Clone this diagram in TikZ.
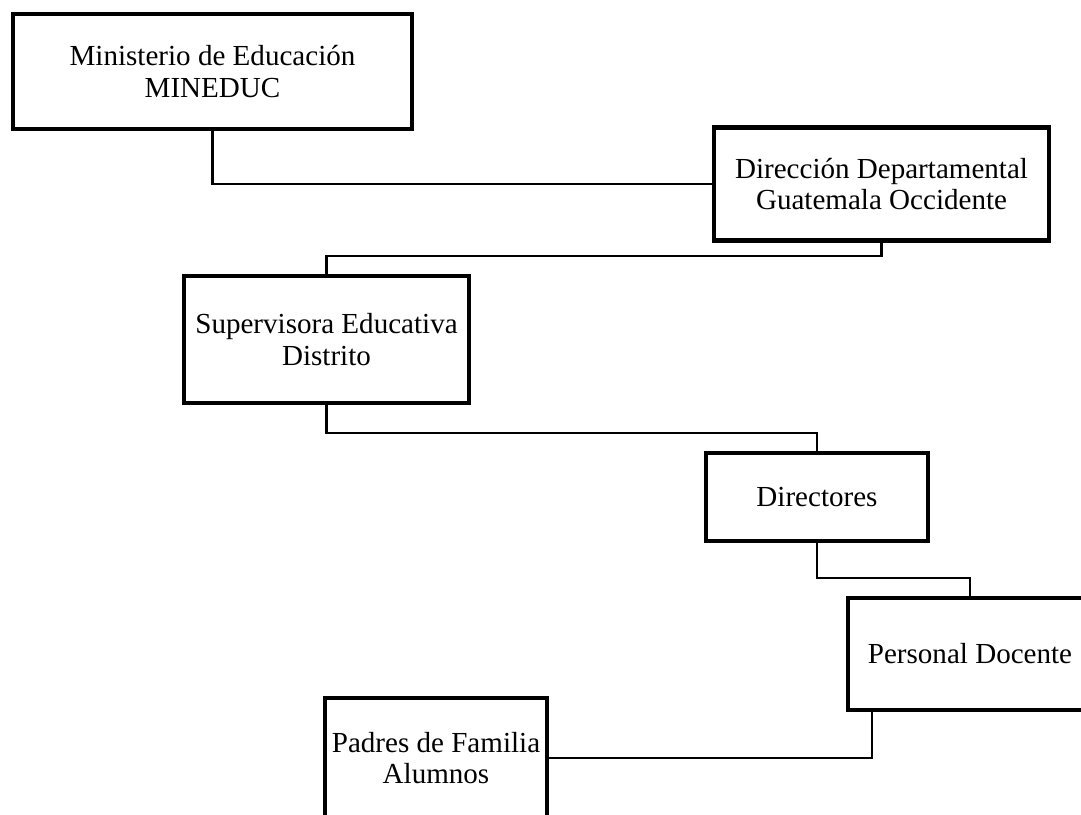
\documentclass[tikz,border=0pt]{standalone}
\usepackage{fontspec}
\setmainfont{Liberation Serif}

\tikzset{every picture/.style={line width=0.75pt}}
\tikzset{
  orgbox/.style={draw, line width=3.2pt, inner sep=0pt, align=center,
    font=\fontsize{21.8}{23.6}\selectfont},
  link/.style={line width=2pt}
}

\begin{document}
\begin{tikzpicture}[x=0.75pt,y=0.75pt,yscale=-1,xscale=1]
\useasboundingbox (0,0) rectangle (1081,814);

%Shape: Rectangle [id:mineduc]
\node [orgbox, minimum width=299.25pt, minimum height=86.25pt] (mineduc) at (212.5,71.5) {Ministerio de Educación\\MINEDUC};
%Shape: Rectangle [id:dirdep]
\node [orgbox, minimum width=251.25pt, minimum height=84.75pt] (dirdep) at (881.5,184) {Dirección Departamental\\Guatemala Occidente};
%Shape: Rectangle [id:superv]
\node [orgbox, minimum width=213.75pt, minimum height=95.25pt] (superv) at (326.5,339.5) {Supervisora Educativa\\Distrito};
%Shape: Rectangle [id:direct]
\node [orgbox, minimum width=166.5pt, minimum height=66pt] (direct) at (817,497) {Directores};
%Shape: Rectangle [id:docente]
\node [orgbox, minimum width=183pt, minimum height=84pt] (docente) at (970,654) {Personal Docente};
%Shape: Rectangle [id:padres]
\node [orgbox, minimum width=166.5pt, minimum height=90pt] (padres) at (436,758) {Padres de Familia\\Alumnos};

%Straight Lines
\draw [link] (mineduc.south) |- (dirdep.west);
\draw [link] (dirdep.south) -- (dirdep.south |- 0,256) -| (superv.north);
\draw [link] (superv.south) -- (superv.south |- 0,433) -| (direct.north);
\draw [link] (direct.south) -- (direct.south |- 0,578) -| (docente.north);
\coordinate (bend) at (872,758);
\draw [link] (bend |- docente.south) -- (bend) -- (padres.east);

\end{tikzpicture}
\end{document}
